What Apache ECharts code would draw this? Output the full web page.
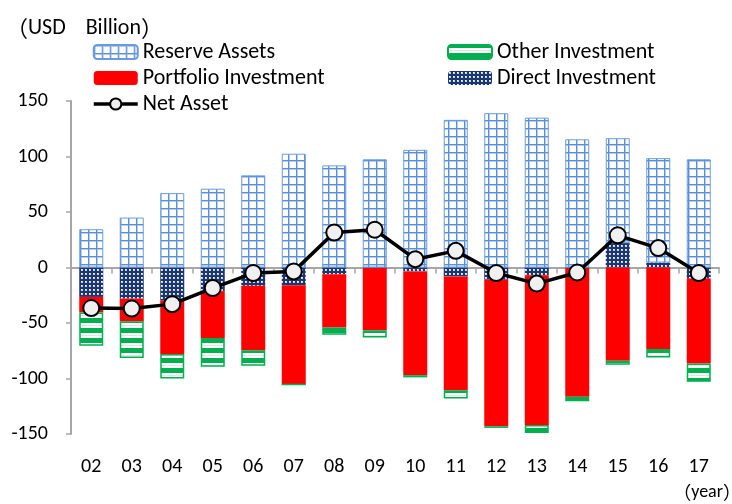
<!DOCTYPE html>
<html>
<head>
<meta charset="utf-8">
<title>Net assets</title>
<script src="https://cdn.jsdelivr.net/npm/echarts@6/dist/echarts.min.js"></script>
<style>
    html, body { margin: 0; padding: 0; background: #fff; }
    #chart { width: 732px; height: 504px; }
</style>
</head>
<body>
<div id="chart"></div>
<script>
// Data
var years = ['02', '03', '04', '05', '06', '07', '08', '09', '10', '11', '12', '13', '14', '15', '16', '17'];
var reserveAssets = [34.5, 45, 67, 71, 83, 102.5, 92, 97.5, 106, 133, 139, 135, 115.5, 94.5, 94, 97.5];
var directInvestment = [-26.5, -28, -29.5, -21.5, -16.5, -16, -6, -0.5, -3.5, -8, -11, -7, -0.5, 22, 4.5, -10];
var portfolioInvestment = [-14, -20.5, -48.5, -42, -58, -89.5, -48, -56, -93.5, -102.5, -132, -135, -116, -84, -73.5, -76.5];
var otherInvestment = [-30, -33, -22, -26, -14, 0, -6.5, -6.5, -2, -7.5, -1.5, -7, -4, -3.5, -7.5, -16.5];
var netAsset = [-36.5, -37, -33, -18.5, -5, -3.5, 31.5, 34, 7.5, 15, -5, -14.5, -4.5, 29, 17.5, -5];
var yTicks = [-150, -100, -50, 0, 50, 100, 150];

var fontFamily = 'Carlito, "Liberation Sans Narrow", "Open Sans", sans-serif';
var cjkFont = '"Noto Sans CJK JP", sans-serif';

// Fill patterns
function makePattern(w, h, draw) {
    var c = document.createElement('canvas');
    c.width = w;
    c.height = h;
    draw(c.getContext('2d'));
    return { image: c, repeat: 'repeat' };
}

var reservePattern = makePattern(8, 8, function(ctx) {
    ctx.fillStyle = '#ffffff';
    ctx.fillRect(0, 0, 8, 8);
    ctx.fillStyle = '#b3cdf0';
    ctx.fillRect(1, 0, 1, 8);
    ctx.fillRect(0, 1, 8, 1);
    ctx.fillStyle = '#5a8fd8';
    ctx.fillRect(0, 0, 1, 8);
    ctx.fillRect(0, 0, 8, 1);
});

var otherPattern = makePattern(8, 10, function(ctx) {
    ctx.fillStyle = '#00b050';
    ctx.fillRect(0, 0, 8, 10);
    ctx.fillStyle = '#ffffff';
    ctx.fillRect(0, 3, 8, 5);
    ctx.fillStyle = '#dde9e0';
    ctx.fillRect(0, 5, 8, 1);
});

var directPattern = makePattern(4, 4, function(ctx) {
    ctx.fillStyle = '#1c3670';
    ctx.fillRect(0, 0, 4, 4);
    ctx.fillStyle = '#c9d3e6';
    ctx.fillRect(1, 1, 2, 2);
    ctx.fillStyle = '#ffffff';
    ctx.fillRect(1, 1, 1, 1);
});

var chart = echarts.init(document.getElementById('chart'), null, { renderer: 'canvas' });

var barBase = { type: 'bar', stack: 'total', barWidth: 24, xAxisIndex: 0 };

var legendBase = {
    orient: 'vertical', top: 36, itemGap: 4, itemWidth: 44, itemHeight: 14,
    textStyle: { fontSize: 22, color: '#000' }
};

function unitText(body, size) {
    return {
        text: '{p|（}{t|' + body + '}{p|）}',
        rich: {
            p: { fontFamily: cjkFont, fontSize: size, fill: '#000', color: '#000' },
            t: { fontFamily: fontFamily, fontSize: size, fill: '#000', color: '#000' }
        }
    };
}

chart.setOption({
    animation: false,
    textStyle: { fontFamily: fontFamily, color: '#000' },
    graphic: [
        { type: 'text', left: 6, top: 17, style: unitText('USD    Billion', 22) },
        { type: 'text', right: -9, top: 483, style: unitText('year', 18) }
    ],
    legend: [
        Object.assign({}, legendBase, {
            data: ['Reserve Assets', 'Portfolio Investment',
                { name: 'Net Asset', lineStyle: { width: 3.5, color: '#000' } }],
            left: 87
        }),
        Object.assign({}, legendBase, {
            data: ['Other Investment', 'Direct Investment'],
            left: 442
        })
    ],
    grid: { left: 71, right: 13, top: 101, bottom: 70 },
    xAxis: [
        {
            type: 'category',
            data: years,
            axisLine: { onZero: true, lineStyle: { color: '#a6a6a6', width: 2 } },
            axisTick: { show: true, length: 6, lineStyle: { color: '#a6a6a6', width: 1.5 } },
            axisLabel: { show: false }
        },
        {
            type: 'category',
            data: years,
            position: 'bottom',
            axisLine: { show: false, onZero: false },
            axisTick: { show: false },
            axisLabel: { fontSize: 20, color: '#000', margin: 23 }
        }
    ],
    yAxis: {
        type: 'value',
        min: yTicks[0],
        max: yTicks[yTicks.length - 1],
        interval: 50,
        axisLine: { show: true, lineStyle: { color: '#a6a6a6', width: 2 } },
        axisTick: { show: true, inside: false, length: 5, lineStyle: { color: '#a6a6a6', width: 1.5 } },
        axisLabel: { fontSize: 20, color: '#000', margin: 23 },
        splitLine: { show: false }
    },
    series: [
        Object.assign({}, barBase, {
            name: 'Direct Investment',
            data: directInvestment,
            itemStyle: { color: directPattern }
        }),
        Object.assign({}, barBase, {
            name: 'Reserve Assets',
            data: reserveAssets,
            itemStyle: { color: reservePattern, borderColor: '#6a9be0', borderWidth: 1 }
        }),
        Object.assign({}, barBase, {
            name: 'Portfolio Investment',
            data: portfolioInvestment,
            itemStyle: { color: '#ff0000' }
        }),
        Object.assign({}, barBase, {
            name: 'Other Investment',
            data: otherInvestment,
            itemStyle: { color: otherPattern, borderColor: '#00b050', borderWidth: 1.5 }
        }),
        {
            name: 'Net Asset',
            type: 'line',
            data: netAsset,
            z: 10,
            symbol: 'circle',
            symbolSize: 16,
            lineStyle: { color: '#000', width: 3.5 },
            itemStyle: { color: '#f0f0f0', borderColor: '#000', borderWidth: 2 }
        }
    ]
});
</script>
</body>
</html>
